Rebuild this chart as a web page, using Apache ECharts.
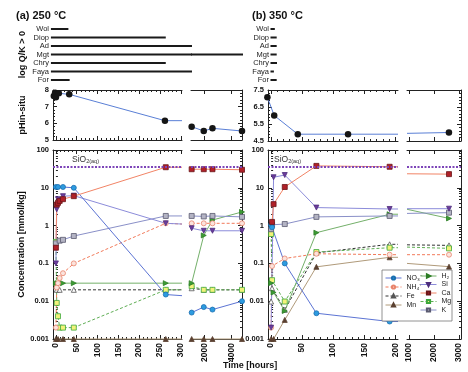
<!DOCTYPE html>
<html><head><meta charset="utf-8">
<script src="https://cdn.jsdelivr.net/npm/echarts@6/dist/echarts.min.js"></script>
<style>html,body{margin:0;padding:0;background:#fff}#c{width:468px;height:372px}</style>
</head><body><div id="c"></div>
<script>
// ---------------- DATA ----------------
const minerals = ['Wol','Diop','Ad','Mgt','Chry','Faya','For'];
// saturation (log Q/K > 0) intervals, hours
const satStartA = -12;
const satEndA   = [30, 264, 327, 327, 264, 327, 33];
const satStartAR = 1000;
const satEndAR  = [null, null, null, 4875, null, null, null];
const satStartB = -1;
const satEndB   = [6, 9, 9, 9, 9.5, 4.5, 9];

// sampling times (hours)
const timeA  = [0, 2, 5, 9, 17, 43, 264];
const timeAR = [1050, 1950, 2600, 4800];
const timeB  = [0, 1.5, 4, 22, 73, 191];
const timeBR = [2600];

// in-situ pH
const pHTimeA  = [-5, -2, 0, 7, 32, 262];
const pHA      = [7.64, 7.84, 7.56, 7.8, 7.74, 6.16];
const pHTailA  = 6.16;
const pHTimeAR = [1050, 1950, 2600, 4800];
const pHAR     = [5.8, 5.54, 5.7, 5.54];
const pHTimeB  = [-6, 5, 43, 124];
const pHB      = [7.07, 6.0, 4.9, 4.9];
const pHTailB  = 4.9;
const pHHeadBR = 4.95;
const pHTimeBR = [2597];
const pHBR     = [5.0];

const sio2Sat = 36;

// concentrations, mmol/kg  (a) 250 °C : left segment, tail at segment end, right segment
const NO3_a = [10.5, null, 10.5, null, 10.5, 10, 0.015], NO3_aTail = 0.014, NO3_aR = [0.005, 0.007, 0.006, 0.01];
const NH4_a = [0.002, 0.023, 0.03, 0.041, 0.055, 0.1, 1.15], NH4_aTail = 1.1, NH4_aR = [1.15, 1.15, 1.15, 1.15];
const Fe_a  = [0.025, 0.02, null, 0.02, null, 0.02, 0.02], Fe_aTail = 0.02, Fe_aR = [0.022, 0.02, 0.02, 0.02];
const Mn_a  = [0.001, null, 0.001, null, 0.001, 0.001, 0.001], Mn_aTail = 0.001, Mn_aR = [0.001, 0.001, 0.001, 0.001];
const H2_a  = [0.03, null, 0.03, null, 0.03, 0.03, 0.03], H2_aTail = 0.03, H2_aR = [0.03, 0.55, 1.4, 2.3];
const Si_a  = [0.1, 2.7, 5, null, 6, 6.2, 1.15], Si_aTail = 1.1, Si_aR = [0.85, 0.73, 0.73, 0.73];
const Ca_a  = [0.26, 3.6, 4.0, 4.5, 5.0, 6.0, 35], Ca_aTail = 35, Ca_aR = [31, 31, 31, 30];
const Mg_a  = [0.37, 0.009, 0.004, 0.002, 0.002, 0.002, 0.02], Mg_aTail = 0.02, Mg_aR = [0.025, 0.02, 0.02, 0.02];
const K_a   = [0.34, null, null, 0.40, 0.42, 0.53, 1.8], K_aTail = 1.8, K_aR = [1.8, 1.75, 1.8, 1.7];

// (b) 350 °C : left segment, tail, head of right segment, right segment
const NO3_b = [1.05, 0.9, null, 0.1, 0.0048, 0.0029], NO3_bTail = 0.0029, NO3_bHead = null, NO3_bR = [null];
const NH4_b = [0.002, 0.085, null, 0.135, 0.18, 0.17], NH4_bTail = 0.17, NH4_bHead = 0.17, NH4_bR = [0.17];
const Fe_b  = [0.0098, 0.022, null, 0.0059, 0.19, 0.32], Fe_bTail = 0.32, Fe_bHead = 0.31, Fe_bR = [0.3];
const Mn_b  = [0.001, null, 0.001, 0.0032, 0.081, 0.145], Mn_bTail = 0.145, Mn_bHead = 0.1, Mn_bR = [0.082];
const H2_b  = [0.03, null, 0.017, 0.0055, 0.65, 2.0], H2_bTail = 2.0, H2_bHead = 2.7, H2_bR = [1.55];
const Si_b  = [0.002, null, 19, 21.8, 3.0, 2.75], Si_bTail = 2.75, Si_bHead = 2.8, Si_bR = [2.8];
const Ca_b  = [null, 1.25, 3.7, 10.5, 38, 36], Ca_bTail = 36, Ca_bHead = 23.5, Ca_bR = [23];
const Mg_b  = [0.6, 0.036, null, 0.0098, 0.2, 0.26], Mg_bTail = 0.26, Mg_bHead = 0.27, Mg_bR = [0.25];
const K_b   = [0.8, 1.05, null, 1.1, 1.7, 1.8], K_bTail = 1.8, K_bHead = 2.1, K_bR = [2.2];

// tick values
const xMajA = [0, 50, 100, 150, 200, 250, 300];
const xMajAR = [2000, 4000];
const xMajB = [0, 50, 100, 150, 200];
const xMajBR = [1000, 2000, 3000];
const logMajor = [0.001, 0.01, 0.1, 1, 10, 100];

// ---------------- STYLE / LAYOUT ----------------
const FONT = '"Liberation Sans", Arial, Helvetica, sans-serif';
const AX = '#222';
const PA = {L1: 53, W1: 129, L2: 191, W2: 51, x1: [-7, 303], x2: [1000, 4800]};
const PB = {L1: 268, W1: 130, L2: 407, W2: 54, x1: [-5, 204.5], x2: [920, 3080]};
const ROW = {bars: [29, 51], pH: [90, 50], conc: [150, 189]};

function range(a, b, s) { const r = []; for (let v = a; v <= b + 1e-9; v += s) r.push(+v.toFixed(6)); return r; }
const xMinA = range(0, 300, 10), xMinB = range(0, 200, 10);
const logMinor = [];
for (let e = -3; e < 2; e++) for (let m = 2; m <= 9; m++) logMinor.push(+(m * Math.pow(10, e)).toPrecision(3));

const SPEC = {
  NO3: {name: 'NO₃⁻', symbol: 'circle', rot: 0, fill: '#2d9be0', border: '#1a6fb0', line: '#5c74d4', dash: false},
  NH4: {name: 'NH₄⁺', symbol: 'circle', rot: 0, fill: '#fbe3dc', border: '#e8846c', line: '#f27a5a', dash: true},
  Fe:  {name: 'Fe', symbol: 'triangle', rot: 0, fill: '#ffffff', border: '#555555', line: '#333333', dash: true},
  Mn:  {name: 'Mn', symbol: 'triangle', rot: 0, fill: '#5a4030', border: '#5a4030', line: '#b09a7a', dash: false},
  H2:  {name: 'H₂', symbol: 'triangle', rot: -90, fill: '#3c9c34', border: '#2c7c24', line: '#74b06a', dash: false},
  Si:  {name: 'Si', symbol: 'triangle', rot: 180, fill: '#6c3c9c', border: '#4c2c7c', line: '#8c8cda', dash: false},
  Ca:  {name: 'Ca', symbol: 'rect', rot: 0, fill: '#b02028', border: '#6a1418', line: '#f28466', dash: false},
  Mg:  {name: 'Mg', symbol: 'rect', rot: 0, fill: '#f2f27a', border: '#3ca83c', line: '#5fae55', dash: true},
  K:   {name: 'K', symbol: 'rect', rot: 0, fill: '#b4b4c4', border: '#5a5a70', line: '#8a90c8', dash: false}
};

const grids = [], xAxes = [], yAxes = [], series = [];

function addGrid(left, top, width, height) {
  grids.push({left, top, width, height, outerBoundsMode: 'none', containLabel: false});
  return grids.length - 1;
}

function addXAxes(gi, xr, maj, mnr, labels) {
  const base = {type: 'value', gridIndex: gi, min: xr[0], max: xr[1], splitLine: {show: false}};
  const idx = xAxes.length;
  ['bottom', 'top'].forEach(pos => {
    xAxes.push(Object.assign({}, base, {
      position: pos,
      axisLine: {show: true, onZero: false, lineStyle: {color: AX, width: 1}},
      axisTick: {show: true, inside: true, length: 4, customValues: maj, lineStyle: {color: AX, width: 1}},
      axisLabel: {show: !!labels && pos === 'bottom', customValues: maj, rotate: 90, margin: 4,
        fontSize: 8.5, fontWeight: 'bold', color: '#111', formatter: v => String(Math.round(v))}
    }));
    if (mnr) xAxes.push(Object.assign({}, base, {
      position: pos, axisLine: {show: false},
      axisTick: {show: true, inside: true, length: 2, customValues: mnr, lineStyle: {color: AX, width: 1}},
      axisLabel: {show: false}
    }));
  });
  return idx;
}

function addYAxis(gi, c) {
  const idx = yAxes.length;
  const main = {type: c.type, gridIndex: gi, min: c.min, max: c.max, position: c.side, splitLine: {show: false},
    axisLine: {show: true, onZero: false, lineStyle: {color: AX, width: 1}},
    axisTick: {show: true, inside: true, length: 4, lineStyle: {color: AX}},
    axisLabel: {show: !!c.labels, margin: 4, fontSize: 7.5, fontWeight: 'bold', color: '#111'}};
  if (c.type === 'log') {
    main.logBase = 10;
    main.axisTick.customValues = logMajor;
    main.axisLabel.customValues = logMajor;
    main.axisLabel.formatter = v => String(+(+v).toPrecision(3));
  } else {
    main.interval = c.interval;
    main.minorTick = {show: true, splitNumber: 5, length: 2, lineStyle: {color: AX}};
  }
  if (c.name) {
    main.name = c.name; main.nameLocation = 'middle'; main.nameRotate = 90; main.nameGap = c.nameGap;
    main.nameTextStyle = {fontSize: 9, fontWeight: 'bold', color: '#111'};
  }
  yAxes.push(main);
  if (c.type === 'log') {
    yAxes.push({type: 'log', logBase: 10, gridIndex: gi, min: c.min, max: c.max, position: c.side,
      splitLine: {show: false}, axisLine: {show: false},
      axisTick: {show: true, inside: true, length: 2, customValues: logMinor, lineStyle: {color: AX}},
      axisLabel: {show: false}});
  }
  return idx;
}

function panel(left, row, width, xr, maj, mnr, xLabels, ycfg) {
  const gi = addGrid(left, row[0], width, row[1]);
  const xi = addXAxes(gi, xr, maj, mnr, xLabels);
  const yi = addYAxis(gi, ycfg);
  return {gi, xi, yi, xr};
}

function barsPanel(left, width, xr, showLabels, margin, name) {
  const gi = addGrid(left, ROW.bars[0], width, ROW.bars[1]);
  const xi = xAxes.length;
  xAxes.push({type: 'value', gridIndex: gi, min: xr[0], max: xr[1], show: false});
  const yi = yAxes.length;
  const y = {type: 'category', gridIndex: gi, data: minerals, inverse: true, boundaryGap: false,
    axisLine: {show: false}, axisTick: {show: false},
    axisLabel: {show: showLabels, interval: 0, margin: margin, fontSize: 7.5, color: '#222'}};
  if (name) {
    y.name = name; y.nameLocation = 'middle'; y.nameRotate = 90; y.nameGap = 26;
    y.nameTextStyle = {fontSize: 9, fontWeight: 'bold', color: '#111'};
  }
  yAxes.push(y);
  return {gi, xi, yi};
}

function barLine(p, x0, x1, i) {
  series.push({type: 'line', xAxisIndex: p.xi, yAxisIndex: p.yi, data: [[x0, i], [x1, i]],
    symbol: 'none', clip: false, silent: true, lineStyle: {color: '#1a1a1a', width: 2}});
}

function pts(times, vals) {
  const o = [];
  times.forEach((t, i) => { if (vals[i] != null) o.push([t, vals[i]]); });
  return o;
}
function edge(x, v) { return {value: [x, v], symbol: 'none'}; }

function addSpecies(key, p, data) {
  const s = SPEC[key];
  series.push({type: 'line', name: s.name, xAxisIndex: p.xi, yAxisIndex: p.yi, data,
    symbol: s.symbol, symbolSize: 5, symbolRotate: s.rot, clip: false, silent: true,
    itemStyle: {color: s.fill, borderColor: s.border, borderWidth: 0.8},
    lineStyle: {color: s.line, width: 1, type: s.dash ? [3, 2] : 'solid'}, z: 3});
}

function addPH(p, data) {
  series.push({type: 'line', xAxisIndex: p.xi, yAxisIndex: p.yi, data, symbol: 'circle', symbolSize: 6.5,
    clip: false, silent: true, itemStyle: {color: '#151515'}, lineStyle: {color: '#5a7fd6', width: 1}});
}

function addSiO2(p, withLabel, dx) {
  const ml = {symbol: ['none', 'none'], silent: true, animation: false,
    lineStyle: {color: '#7c44b8', width: 2, type: [2, 1.5]},
    label: {show: false}, data: [{yAxis: sio2Sat}]};
  if (withLabel) {
    ml.label = {show: true, position: 'insideStartTop', distance: [dx, 2],
      formatter: '{a|SiO}{b|2(aq)}',
      rich: {a: {fontSize: 8.5, color: '#333', lineHeight: 10},
             b: {fontSize: 5.5, color: '#333', lineHeight: 10, verticalAlign: 'bottom'}}};
  }
  series.push({type: 'line', xAxisIndex: p.xi, yAxisIndex: p.yi, data: [], silent: true, markLine: ml});
}

// ---------------- BUILD ----------------
const bA  = barsPanel(PA.L1, PA.W1, PA.x1, true, 4, 'log Q/K > 0');
const bAR = barsPanel(PA.L2, PA.W2, PA.x2, false, 0, null);
const bB  = barsPanel(PB.L1, PB.W1, PB.x1, true, -1, null);
minerals.forEach((m, i) => {
  if (satEndA[i] != null) barLine(bA, satStartA, satEndA[i], i);
  if (satEndAR[i] != null) barLine(bAR, satStartAR, satEndAR[i], i);
  if (satEndB[i] != null) barLine(bB, satStartB, satEndB[i], i);
});

const pA  = panel(PA.L1, ROW.pH, PA.W1, PA.x1, xMajA, xMinA, false,
  {type: 'value', min: 5, max: 8, interval: 1, side: 'left', labels: true, name: 'pHin-situ', nameGap: 26});
const pAR = panel(PA.L2, ROW.pH, PA.W2, PA.x2, xMajAR, null, false,
  {type: 'value', min: 5, max: 8, interval: 1, side: 'right', labels: false});
const pB  = panel(PB.L1, [90, 51], PB.W1, PB.x1, xMajB, xMinB, false,
  {type: 'value', min: 4.5, max: 7.5, interval: 1, side: 'left', labels: true});
const pBR = panel(PB.L2, [90, 51], PB.W2, PB.x2, xMajBR, null, false,
  {type: 'value', min: 4.5, max: 7.5, interval: 1, side: 'right', labels: false});

addPH(pA, pts(pHTimeA, pHA).concat([edge(PA.x1[1], pHTailA)]));
addPH(pAR, pts(pHTimeAR, pHAR));
addPH(pB, pts(pHTimeB, pHB).concat([edge(PB.x1[1], pHTailB)]));
addPH(pBR, [edge(PB.x2[0], pHHeadBR)].concat(pts(pHTimeBR, pHBR)));

const cA  = panel(PA.L1, ROW.conc, PA.W1, PA.x1, xMajA, xMinA, true,
  {type: 'log', min: 0.001, max: 100, side: 'left', labels: true, name: 'Concentration [mmol/kg]', nameGap: 26});
const cAR = panel(PA.L2, ROW.conc, PA.W2, PA.x2, xMajAR, null, true,
  {type: 'log', min: 0.001, max: 100, side: 'right', labels: false});
const cB  = panel(PB.L1, ROW.conc, PB.W1, PB.x1, xMajB, xMinB, true,
  {type: 'log', min: 0.001, max: 100, side: 'left', labels: true});
const cBR = panel(PB.L2, ROW.conc, PB.W2, PB.x2, xMajBR, null, true,
  {type: 'log', min: 0.001, max: 100, side: 'right', labels: false});

addSiO2(cA, true, 19);
addSiO2(cAR, false, 0);
addSiO2(cB, true, 6);
addSiO2(cBR, false, 0);

const A_SETS = {
  NO3: [NO3_a, NO3_aTail, NO3_aR], NH4: [NH4_a, NH4_aTail, NH4_aR], Fe: [Fe_a, Fe_aTail, Fe_aR],
  Mn: [Mn_a, Mn_aTail, Mn_aR], H2: [H2_a, H2_aTail, H2_aR], Si: [Si_a, Si_aTail, Si_aR],
  Ca: [Ca_a, Ca_aTail, Ca_aR], Mg: [Mg_a, Mg_aTail, Mg_aR], K: [K_a, K_aTail, K_aR]
};
const B_SETS = {
  NO3: [NO3_b, NO3_bTail, NO3_bHead, NO3_bR], NH4: [NH4_b, NH4_bTail, NH4_bHead, NH4_bR],
  Fe: [Fe_b, Fe_bTail, Fe_bHead, Fe_bR], Mn: [Mn_b, Mn_bTail, Mn_bHead, Mn_bR],
  H2: [H2_b, H2_bTail, H2_bHead, H2_bR], Si: [Si_b, Si_bTail, Si_bHead, Si_bR],
  Ca: [Ca_b, Ca_bTail, Ca_bHead, Ca_bR], Mg: [Mg_b, Mg_bTail, Mg_bHead, Mg_bR],
  K: [K_b, K_bTail, K_bHead, K_bR]
};
const ORDER = ['Mn', 'Fe', 'Mg', 'H2', 'NH4', 'K', 'Si', 'NO3', 'Ca'];
ORDER.forEach(k => {
  const a = A_SETS[k];
  addSpecies(k, cA, pts(timeA, a[0]).concat([edge(PA.x1[1], a[1])]));
  addSpecies(k, cAR, pts(timeAR, a[2]));
  const b = B_SETS[k];
  addSpecies(k, cB, pts(timeB, b[0]).concat(b[1] != null ? [edge(PB.x1[1], b[1])] : []));
  const r = pts(timeBR, b[3]);
  if (r.length) addSpecies(k, cBR, (b[2] != null ? [edge(PB.x2[0], b[2])] : []).concat(r));
});

const legendBase = {orient: 'vertical', itemWidth: 16, itemHeight: 4, selectedMode: false, padding: 0, z: 10,
  textStyle: {fontSize: 7, color: '#222', lineHeight: 8}, lineStyle: {width: 1}};

const option = {
  animation: false,
  backgroundColor: '#fff',
  textStyle: {fontFamily: FONT},
  title: [
    {text: '(a) 250 °C', left: 16, top: 10, padding: 0, textStyle: {fontSize: 11, fontWeight: 'bold', color: '#111', fontFamily: FONT}},
    {text: '(b) 350 °C', left: 252, top: 10, padding: 0, textStyle: {fontSize: 11, fontWeight: 'bold', color: '#111', fontFamily: FONT}},
    {text: 'Time [hours]', left: 223, top: 361, padding: 0, textStyle: {fontSize: 9, fontWeight: 'bold', color: '#111', fontFamily: FONT}}
  ],
  legend: [
    Object.assign({}, legendBase, {data: ['NO₃⁻', 'NH₄⁺', 'Fe', 'Mn'], left: 385, top: 274, itemGap: 1}),
    Object.assign({}, legendBase, {data: ['H₂', 'Si', 'Ca', 'Mg', 'K'], left: 420, top: 272, itemGap: 0.5})
  ],
  graphic: [{type: 'rect', z: 5, silent: true, shape: {x: 382, y: 270, width: 70, height: 51},
    style: {fill: '#ffffff', stroke: '#777', lineWidth: 0.8}}],
  grid: grids, xAxis: xAxes, yAxis: yAxes, series
};

const chart = echarts.init(document.getElementById('c'), null, {renderer: 'canvas', width: 468, height: 372});
chart.setOption(option);
</script></body></html>
